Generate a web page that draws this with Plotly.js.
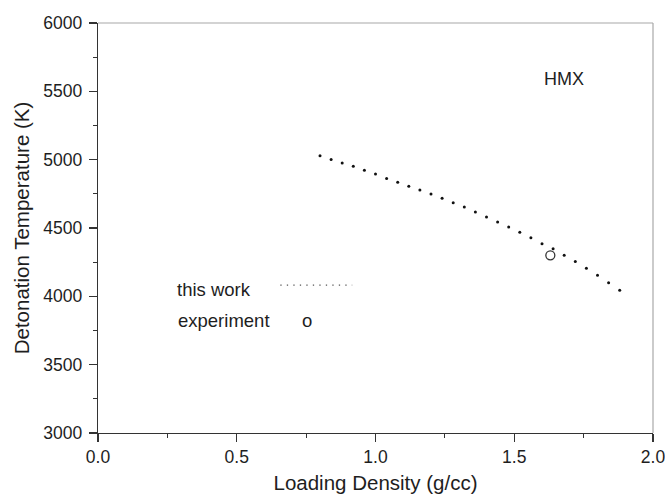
<!DOCTYPE html>
<html>
<head>
<meta charset="utf-8">
<script src="https://cdn.plot.ly/plotly-3.0.1.min.js"></script>
<style>html,body{margin:0;padding:0;background:#fff;}#chart{width:665px;height:496px;}</style>
</head>
<body>
<div id="chart"></div>
<script>
// "this work" calculated curve (loading density g/cc, detonation temperature K)
var workDensity = [0.80, 0.84, 0.88, 0.92, 0.96, 1.00, 1.04, 1.08, 1.12, 1.16,
                   1.20, 1.24, 1.28, 1.32, 1.36, 1.40, 1.44, 1.48, 1.52, 1.56,
                   1.60, 1.64, 1.68, 1.72, 1.76, 1.80, 1.84, 1.88];
var workTemp = [5029, 5002, 4976, 4951, 4922, 4895, 4863, 4834, 4805, 4778,
                4749, 4717, 4685, 4654, 4617, 4580, 4544, 4507, 4468, 4429,
                4385, 4349, 4300, 4254, 4205, 4154, 4100, 4044];
// experiment
var expDensity = [1.63];
var expTemp = [4300];

var FONT = 'Liberation Sans, Arial, Helvetica, sans-serif';
var TXT = '#1e1e1e';

var traces = [
  {x: workDensity, y: workTemp, type: 'scatter', mode: 'markers', name: 'this work',
   marker: {size: 3, color: '#111'}, showlegend: false, hoverinfo: 'x+y'},
  {x: expDensity, y: expTemp, type: 'scatter', mode: 'markers', name: 'experiment',
   marker: {symbol: 'circle-open', size: 9, color: '#333', line: {width: 1.3, color: '#333'}},
   showlegend: false}
];

var layout = {
  width: 665, height: 496,
  margin: {l: 98, r: 12, t: 23, b: 63},
  paper_bgcolor: '#fff', plot_bgcolor: '#fff',
  font: {family: FONT, color: TXT, size: 18},
  showlegend: false,
  xaxis: {
    range: [0, 2], dtick: 0.5, tick0: 0, tickformat: '.1f',
    ticklabeloverflow: 'allow',
    showline: true, linecolor: '#333', linewidth: 1.3,
    ticks: 'outside', ticklen: 8, tickwidth: 1.3, tickcolor: '#333',
    minor: {dtick: 0.25, ticks: 'outside', ticklen: 4, tickwidth: 1.2, tickcolor: '#333'},
    showgrid: false, zeroline: false,
    tickfont: {size: 17.5, color: TXT, family: FONT},
    title: {text: 'Loading Density (g/cc)', font: {size: 20.5, color: TXT, family: FONT}, standoff: 9}
  },
  yaxis: {
    range: [3000, 6000], dtick: 500, tick0: 3000,
    ticklabelstandoff: 3,
    showline: true, linecolor: '#333', linewidth: 1.3,
    ticks: 'outside', ticklen: 8, tickwidth: 1.3, tickcolor: '#333',
    minor: {dtick: 250, ticks: 'outside', ticklen: 4, tickwidth: 1.2, tickcolor: '#333'},
    showgrid: false, zeroline: false,
    tickfont: {size: 17.5, color: TXT, family: FONT},
    title: {text: 'Detonation Temperature (K)', font: {size: 20.5, color: TXT, family: FONT}, standoff: 8}
  },
  shapes: [
    {type: 'line', xref: 'paper', yref: 'paper', x0: 0, x1: 1, y0: 1, y1: 1,
     line: {color: '#a8a8a8', width: 1.2}},
    {type: 'line', xref: 'paper', yref: 'paper', x0: 1, x1: 1, y0: 0, y1: 1,
     line: {color: '#a8a8a8', width: 1.2}},
    {type: 'line', xref: 'paper', yref: 'paper', x0: 0.3285, x1: 0.458, y0: 0.3607, y1: 0.3607,
     line: {color: '#555', width: 1.3, dash: '1.3px,5.2px'}}
  ],
  annotations: [
    {text: 'HMX', xref: 'paper', yref: 'paper', x: 0.800, y: 0.8628, xanchor: 'left', yanchor: 'middle',
     showarrow: false, font: {size: 18, color: TXT, family: FONT}},
    {text: 'this work', xref: 'paper', yref: 'paper', x: 0.139, y: 0.351, xanchor: 'left', yanchor: 'middle',
     showarrow: false, font: {size: 18.5, color: TXT, family: FONT}},
    {text: 'experiment', xref: 'paper', yref: 'paper', x: 0.1411, y: 0.2754, xanchor: 'left', yanchor: 'middle',
     showarrow: false, font: {size: 18.5, color: TXT, family: FONT}},
    {text: 'o', xref: 'paper', yref: 'paper', x: 0.3766, y: 0.2754, xanchor: 'center', yanchor: 'middle',
     showarrow: false, font: {size: 18.5, color: TXT, family: FONT}}
  ]
};

Plotly.newPlot('chart', traces, layout, {staticPlot: true, displayModeBar: false});
</script>
</body>
</html>
